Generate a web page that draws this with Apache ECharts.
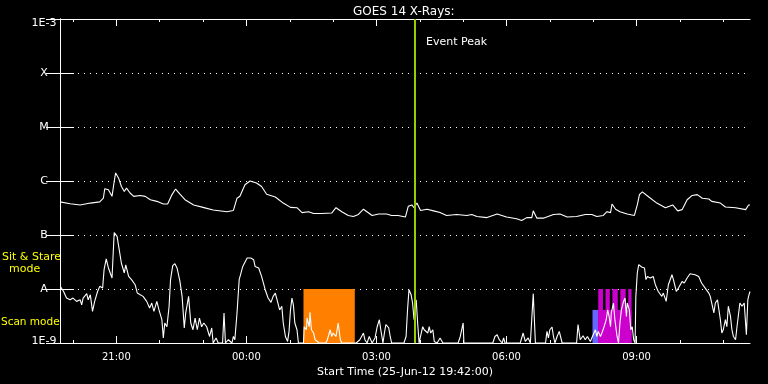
<!DOCTYPE html>
<html>
<head>
<meta charset="utf-8">
<script src="https://cdn.jsdelivr.net/npm/echarts@6/dist/echarts.min.js"></script>
<style>html,body{margin:0;padding:0;background:#000;}#c{width:768px;height:384px;}</style>
</head>
<body>
<div id="c"></div>
<script>
// time in minutes after start (25-Jun-12 19:42:00), flux in W/m^2
const startClock = 19 * 60 + 42;
const axisMaxMin = 955;

// long channel (1-8 A)
const longT = [0,14,28,42,55,60,62,67,72,75,77,81,85,89,92,97,102,111,118,125,134,143,149,155,160,166,173,185,198,212,231,240,245,249,256,263,272,279,286,298,309,319,328,335,344,351,362,376,382,390,399,406,413,420,432,441,452,459,468,478,482,487,490,494,499,508,517,526,535,549,563,570,577,591,605,618,632,639,646,653,655,660,669,683,692,702,715,727,736,743,752,757,762,764,769,775,785,795,799,802,806,815,826,838,848,855,861,868,875,882,889,898,902,914,921,935,949,953,955];
const longV = [4.1e-7,3.8e-7,3.6e-7,3.9e-7,4.1e-7,4.8e-7,7.2e-7,6.9e-7,5.2e-7,9.8e-7,1.41e-6,1.14e-6,7.9e-7,6.4e-7,7.4e-7,6.0e-7,5.2e-7,5.4e-7,5.2e-7,4.5e-7,4.2e-7,3.75e-7,3.75e-7,5.6e-7,7.1e-7,5.7e-7,4.5e-7,3.6e-7,3.25e-7,2.9e-7,2.7e-7,2.85e-7,4.8e-7,5.2e-7,8.5e-7,1.0e-6,9.2e-7,7.9e-7,5.7e-7,5.05e-7,3.9e-7,3.25e-7,3.2e-7,2.6e-7,2.7e-7,2.5e-7,2.5e-7,2.55e-7,3.2e-7,2.7e-7,2.3e-7,2.2e-7,2.4e-7,3.0e-7,2.3e-7,2.45e-7,2.45e-7,2.3e-7,2.3e-7,2.15e-7,3.4e-7,3.6e-7,3.2e-7,3.9e-7,2.85e-7,3.0e-7,2.8e-7,2.6e-7,2.3e-7,2.4e-7,2.3e-7,2.4e-7,2.2e-7,2.1e-7,2.45e-7,2.15e-7,2.0e-7,1.85e-7,2.1e-7,2.1e-7,2.8e-7,2.05e-7,2.05e-7,2.4e-7,2.45e-7,2.15e-7,2.2e-7,2.4e-7,2.4e-7,2.2e-7,2.3e-7,2.7e-7,2.6e-7,3.75e-7,3.0e-7,2.7e-7,2.45e-7,2.3e-7,3.6e-7,5.6e-7,6.3e-7,5.05e-7,3.9e-7,3.2e-7,3.6e-7,2.8e-7,2.95e-7,4.5e-7,5.4e-7,5.6e-7,4.8e-7,4.65e-7,4.2e-7,3.9e-7,3.3e-7,3.2e-7,2.95e-7,3.6e-7,3.6e-7];

// short channel (0.5-4 A)
const shortT = [1,5,9,14,18,23,28,30,32,37,39,42,45,48,52,55,59,61,64,67,69,72,75,79,82,85,89,91,95,99,104,107,111,115,120,124,127,130,134,137,141,143,145,148,151,153,156,159,162,166,169,172,174,178,181,184,187,190,193,196,199,203,207,210,212,216,219,225,227,229,233,238,240,242,245,248,253,259,264,268,270,275,279,284,288,292,295,298,301,304,307,309,312,315,317,319,321,323,325,328,330,337,338,341,342,345,346,348,351,353,355,359,368,370,374,376,378,382,385,388,390,410,415,420,422,425,428,432,436,439,442,444,447,449,451,455,457,459,476,479,481,483,486,488,490,493,495,497,499,502,504,506,509,511,513,516,518,522,526,530,551,554,558,559,599,602,605,608,612,614,616,637,641,644,648,651,653,655,658,672,674,676,678,681,683,685,688,691,695,715,717,720,724,727,730,734,738,741,743,745,748,750,753,756,758,760,762,763,766,768,771,773,775,777,780,782,784,785,788,790,792,794,796,797,799,801,805,809,811,813,817,821,824,828,833,835,839,842,847,849,853,856,861,864,868,872,879,884,888,893,898,900,905,907,910,914,916,918,921,923,925,928,930,932,935,937,941,944,947,950,952,953,955];
const shortV = [1.09e-8,9.0e-9,6.8e-9,6.3e-9,6.8e-9,5.9e-9,6.3e-9,5.1e-9,6.8e-9,8.2e-9,6.3e-9,7.8e-9,3.85e-9,5.9e-9,9.0e-9,1.12e-8,1.04e-8,2.28e-8,3.6e-8,2.45e-8,2.62e-8,1.6e-8,1.11e-7,9.4e-8,5.3e-8,3.0e-8,1.98e-8,2.8e-8,1.71e-8,1.49e-8,1.2e-8,8.4e-9,7.8e-9,7.3e-9,5.9e-9,4.45e-9,5.5e-9,3.85e-9,5.9e-9,4.1e-9,2.7e-9,1.24e-9,2.35e-9,2.0e-9,4.8e-9,1.49e-8,2.7e-8,2.94e-8,2.45e-8,1.38e-8,7.3e-9,1.9e-9,3.6e-9,7.3e-9,2.35e-9,1.76e-9,2.9e-9,1.76e-9,2.9e-9,2.0e-9,2.35e-9,2.0e-9,1.32e-9,1.9e-9,1e-9,1.24e-9,1e-9,1e-9,3.6e-9,1e-9,1.15e-9,1e-9,1.32e-9,1.15e-9,3.6e-9,1.49e-8,2.62e-8,3.75e-8,3.75e-8,3.49e-8,2.62e-8,2.45e-8,1.71e-8,9.7e-9,6.8e-9,5.65e-9,7.3e-9,8.4e-9,5.9e-9,4.1e-9,4.8e-9,2.35e-9,1.32e-9,1.07e-9,1.64e-9,4.1e-9,6.8e-9,5.1e-9,2.35e-9,1.76e-9,1e-9,1e-9,2.0e-9,1.76e-9,2.9e-9,2.0e-9,3.7e-9,1.76e-9,1.53e-9,1.15e-9,1.24e-9,1e-9,1e-9,1.15e-9,1.76e-9,1.32e-9,1.53e-9,1.32e-9,2.35e-9,1.15e-9,1e-9,1e-9,1.15e-9,1.53e-9,1.15e-9,1e-9,1.32e-9,1e-9,1.24e-9,2.0e-9,2.7e-9,1.76e-9,1e-9,1.53e-9,2.2e-9,1.9e-9,1.32e-9,1e-9,1e-9,1.32e-9,4.1e-9,9.7e-9,7.8e-9,5.5e-9,2.7e-9,6.3e-9,2.35e-9,1e-9,1.32e-9,2.0e-9,1.76e-9,1.9e-9,1.53e-9,2.0e-9,1.53e-9,1.76e-9,1.07e-9,1e-9,1.24e-9,1e-9,1e-9,1.32e-9,2.35e-9,1e-9,1e-9,1.32e-9,1.42e-9,1.15e-9,1e-9,1.24e-9,1e-9,1e-9,1.53e-9,1.07e-9,1.24e-9,1e-9,1e-9,8.2e-9,1e-9,1e-9,1.64e-9,1.24e-9,1.76e-9,1.98e-9,1.32e-9,1e-9,1.32e-9,1.64e-9,1e-9,1e-9,2.2e-9,1.15e-9,1.36e-9,1.15e-9,1.32e-9,1.07e-9,1.42e-9,1.76e-9,1.32e-9,1.64e-9,1.32e-9,1.53e-9,2.0e-9,2.7e-9,4.1e-9,3.1e-9,2.0e-9,3.6e-9,5.5e-9,2.7e-9,1.32e-9,1e-9,2.35e-9,4.1e-9,5.9e-9,6.8e-9,3.1e-9,5.5e-9,4.1e-9,1.76e-9,2.0e-9,1.15e-9,1e-9,7.3e-9,1.98e-8,2.82e-8,2.55e-8,2.45e-8,1.49e-8,1.71e-8,1.6e-8,1.71e-8,1.2e-8,9.0e-9,7.3e-9,8.4e-9,5.9e-9,1.2e-8,1.84e-8,1.49e-8,9.0e-9,1.04e-8,1.38e-8,1.29e-8,1.6e-8,1.92e-8,1.84e-8,1.71e-8,1.29e-8,1.04e-8,8.4e-9,7.3e-9,3.6e-9,5.5e-9,6.3e-9,2.7e-9,1.53e-9,1.76e-9,2.7e-9,2.0e-9,4.8e-9,3.1e-9,1.76e-9,1.32e-9,1.15e-9,2.0e-9,5.5e-9,4.8e-9,5.5e-9,1.42e-9,6.3e-9,7.3e-9,9.0e-9];

// observing-mode boxes: [startMin, endMin, lowFlux, highFlux]
const orangeBoxes = [[337, 408, 1e-9, 1e-8]];
const blueBoxes = [[737, 745, 1e-9, 4.1e-9]];
const magentaBoxes = [[745, 791, 1e-9, 4.1e-9],[745, 751.5, 1e-9, 1e-8],[755, 761, 1e-9, 1e-8],[764.5, 772, 1e-9, 1e-8],[775.5, 783, 1e-9, 1e-8],[786.5, 791, 1e-9, 1e-8]];

const eventPeakMin = 491;

// axis ticks (minutes after start) and labels
const hourTicks = [18,78,138,198,258,318,378,438,498,558,618,678,738,798,858,918];
const majorTicks = [78,258,438,618,798];
const yLabelNames = {'-9':'1E-9','-8':'A','-7':'B','-6':'C','-5':'M','-4':'X','-3':'1E-3'};

const FONT = 'DejaVu Sans';
function clockLabel(v) {
  const t = (startClock + v) % 1440;
  const h = Math.floor(t / 60), m = Math.round(t % 60);
  return String(h).padStart(2, '0') + ':' + String(m).padStart(2, '0');
}
function boxes(list, color) {
  return list.map(b => [
    {xAxis: b[0], yAxis: b[2], itemStyle: {color: color, opacity: 1}},
    {xAxis: b[1], yAxis: b[3]}
  ]);
}

const chart = echarts.init(document.getElementById('c'), null, {renderer: 'canvas'});
const baseX = {
  type: 'value', min: 0, max: axisMaxMin, gridIndex: 0,
  splitLine: {show: false}, axisLabel: {show: false},
  axisLine: {show: false, lineStyle: {color: '#fff', width: 1}}
};
const option = {
  backgroundColor: '#000',
  animation: false,
  grid: {left: 60, top: 19, width: 690, height: 324, containLabel: false, outerBoundsMode: 'none'},
  title: {
    text: 'GOES 14 X-Rays:', left: 348, top: 1,
    textStyle: {color: '#fff', fontSize: 12, fontWeight: 'normal', fontFamily: FONT}
  },
  graphic: [
    {type: 'text', left: 426, top: 37, style: {text: 'Event Peak', fill: '#fff', font: '11px "DejaVu Sans"'}},
    {type: 'text', left: 2, top: 252, style: {text: 'Sit & Stare', fill: '#ffff00', font: '11px "DejaVu Sans"'}},
    {type: 'text', left: 9, top: 264, style: {text: 'mode', fill: '#ffff00', font: '11px "DejaVu Sans"'}},
    {type: 'text', left: 1, top: 317, style: {text: 'Scan mode', fill: '#ffff00', font: '10.5px "DejaVu Sans"'}}
  ],
  xAxis: [
    Object.assign({}, baseX, {position: 'bottom',
      axisLine: {show: true, lineStyle: {color: '#fff', width: 1}},
      axisTick: {show: true, inside: true, length: 3, customValues: hourTicks, lineStyle: {color: '#fff'}}}),
    Object.assign({}, baseX, {position: 'bottom',
      axisTick: {show: true, inside: true, length: 7, customValues: majorTicks, lineStyle: {color: '#fff'}},
      axisLabel: {show: true, customValues: majorTicks, formatter: clockLabel, color: '#fff', fontSize: 10, fontFamily: FONT, margin: 9},
      name: 'Start Time (25-Jun-12 19:42:00)', nameLocation: 'middle', nameGap: 20,
      nameTextStyle: {color: '#fff', fontSize: 11, fontFamily: FONT}}),
    Object.assign({}, baseX, {position: 'top',
      axisLine: {show: true, lineStyle: {color: '#fff', width: 1}},
      axisTick: {show: true, inside: true, length: 3, customValues: hourTicks, lineStyle: {color: '#fff'}}}),
    Object.assign({}, baseX, {position: 'top',
      axisTick: {show: true, inside: true, length: 7, customValues: majorTicks, lineStyle: {color: '#fff'}}})
  ],
  yAxis: [
    {
      type: 'log', logBase: 10, min: 1e-9, max: 1e-3, position: 'left', splitNumber: 6,
      axisLine: {show: true, lineStyle: {color: '#fff', width: 1}},
      axisTick: {show: true, inside: true, length: 14, lineStyle: {color: '#fff'}},
      minorTick: {show: false},
      axisLabel: {
        color: '#fff', fontSize: 11, fontFamily: FONT, align: 'center', margin: 16,
        formatter: function (v) {
          const k = String(Math.round(Math.log10(v)));
          const s = yLabelNames[k] || '';
          if (k === '-3') return '{t|' + s + '}';
          if (k === '-9') return '{b|' + s + '}';
          return s;
        },
        rich: {
          t: {color: '#fff', fontSize: 11, fontFamily: FONT, padding: [8, 0, 0, 0]},
          b: {color: '#fff', fontSize: 11, fontFamily: FONT, padding: [0, 0, 4, 0]}
        }
      },
      splitLine: {show: true, lineStyle: {color: '#fff', width: 1, type: [1, 5]}}
    },
    {
      type: 'log', logBase: 10, min: 1e-9, max: 1e-3, position: 'right', splitNumber: 6,
      axisLine: {show: true, lineStyle: {color: '#fff', width: 1}},
      axisTick: {show: true, inside: true, length: 14, lineStyle: {color: '#fff'}},
      axisLabel: {show: false}, splitLine: {show: false}
    }
  ],
  series: [
    {
      type: 'line', name: 'modes', xAxisIndex: 0, yAxisIndex: 0, data: [], z: 1,
      markArea: {silent: true, label: {show: false},
        data: [].concat(boxes(orangeBoxes, '#ff8000'), boxes(blueBoxes, '#6666ff'), boxes(magentaBoxes, '#cc00cc'))}
    },
    {
      type: 'line', name: 'long', xAxisIndex: 0, yAxisIndex: 0, z: 3,
      data: longT.map((t, i) => [t, longV[i]]),
      showSymbol: false, symbol: 'none',
      lineStyle: {color: '#fff', width: 1.1}, itemStyle: {color: '#fff'},
      markLine: {silent: true, symbol: 'none', label: {show: false},
        lineStyle: {color: '#99cc00', width: 2, type: 'solid'},
        data: [{xAxis: eventPeakMin}]}
    },
    {
      type: 'line', name: 'short', xAxisIndex: 0, yAxisIndex: 0, z: 3,
      data: shortT.map((t, i) => [t, shortV[i]]),
      showSymbol: false, symbol: 'none',
      lineStyle: {color: '#fff', width: 1.1}, itemStyle: {color: '#fff'}
    }
  ]
};
chart.setOption(option);
</script>
</body>
</html>
